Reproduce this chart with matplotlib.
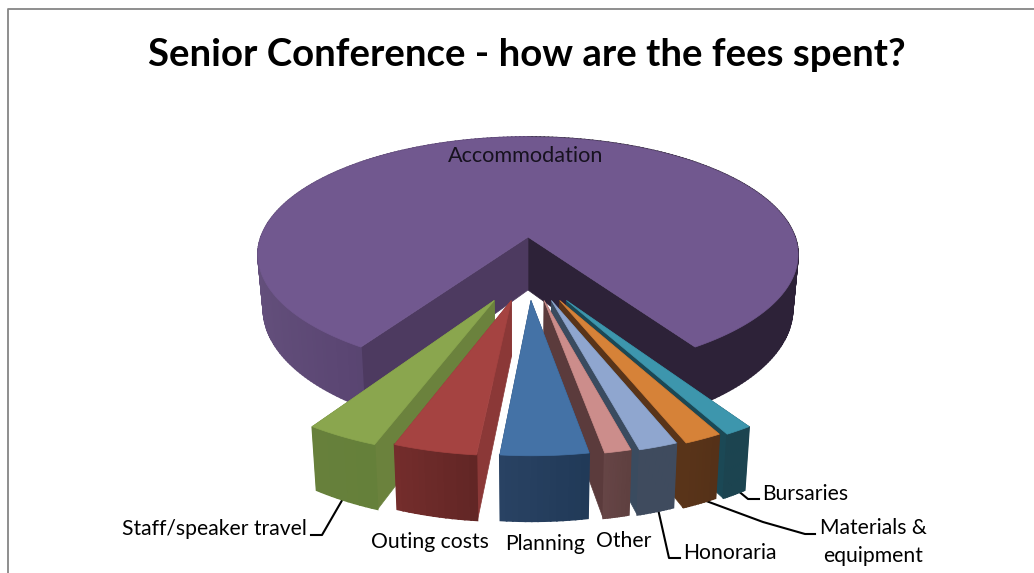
import numpy as np
import matplotlib
matplotlib.use("Agg")
import matplotlib.pyplot as plt
from matplotlib.colors import to_rgb
from matplotlib.patches import Polygon

# ── Chart data (percent of fees) ──
CATEGORIES = ["Staff/speaker travel", "Outing costs", "Planning", "Other",
              "Honoraria", "Materials & equipment", "Bursaries", "Accommodation"]
VALUES = [3.6, 4.1, 4.3, 1.3, 1.92, 1.87, 1.35, 81.56]
TOP_COLORS = ["#8aa64e", "#a54341", "#4472a6", "#cc8d8b",
              "#8fa6cf", "#d68238", "#3d96ad", "#71588f"]
WALL_COLORS = ["#6b823d", "#8b3837", "#2c4a70", "#5b3b3c",
               "#3a4b5f", "#593419", "#1b4855", "#2d2238"]
SIDE_LEFT = ["#67803b", "#742d2c", "#294263", "#664546",
             "#3f4b5e", "#593419", "#1c4450", "#2d2238"]
SIDE_RIGHT = ["#65803a", "#622625", "#213a58", "#5f4040",
              "#3f4b5e", "#553118", "#1c4450", "#2d2238"]
TITLE = "Senior Conference - how are the fees spent?"

# Projection of the pie disc onto the canvas (pixels)
CX, Y0 = 528, 237
A, B, K = 267, 115, 0.15
BOTTOM_SCALE = 0.98
EXPLODE_X, EXPLODE_Y = 0.26, 0.51
SLICE_RADIUS = 0.97


def project(u, v, depth=0):
    """Disc coordinates (v towards the viewer) to canvas pixels."""
    w = 1 - K * v
    x = CX + A * u / w
    y = Y0 + B * v / w
    if depth:
        x = CX + (x - CX) * BOTTOM_SCALE
        y = y + depth / w
    return x, y


def blend(c1, c2, t):
    c1, c2 = np.array(to_rgb(c1)), np.array(to_rgb(c2))
    return tuple((1 - t) * c1 + t * c2)


def fill(ax, pts, color, lw=0.5):
    ax.add_patch(Polygon(pts, closed=True, facecolor=color, edgecolor=color, linewidth=lw))


def draw_slice(ax, start, end, idx, offset=(0, 0), radius=1.0, depth=53):
    ou, ov = offset
    angles = np.radians(np.linspace(start, end, max(int(end - start), 12)))
    us = ou + radius * np.sin(angles)
    vs = ov + radius * np.cos(angles)

    # Walls from the apex out to each cut edge
    for i in (0, -1):
        pts = [project(ou, ov), project(us[i], vs[i]),
               project(us[i], vs[i], depth), project(ou, ov, depth)]
        color = WALL_COLORS[idx]
        if idx == len(VALUES) - 1 and i == -1:
            color = "#4d3a60"
        fill(ax, pts, color)

    # Outer rim, as narrow strips so it can shade
    for j in range(len(us) - 1):
        pts = [project(us[j], vs[j]), project(us[j + 1], vs[j + 1]),
               project(us[j + 1], vs[j + 1], depth), project(us[j], vs[j], depth)]
        if idx == len(VALUES) - 1:
            if us[j] > 0:
                color = SIDE_RIGHT[idx]
            else:
                color = blend("#64507c", "#584370", (us[j] + 1) / 0.5)
        else:
            color = blend(SIDE_LEFT[idx], SIDE_RIGHT[idx], j / (len(us) - 2))
        fill(ax, pts, color, lw=1.2)

    # Top face
    top = [project(ou, ov)] + [project(u, v) for u, v in zip(us, vs)]
    fill(ax, top, TOP_COLORS[idx])


def main():
    fig = plt.figure(figsize=(10.34, 5.73), dpi=100)
    ax = fig.add_axes([0, 0, 1, 1])
    ax.set_xlim(0, 1034)
    ax.set_ylim(573, 0)
    ax.axis("off")

    plt.rcParams["font.family"] = ["Lato", "DejaVu Sans"]

    # Chart frame, cut off by the image on the right and bottom
    ax.plot([8, 8, 1034], [573, 9, 9], color="#868686", linewidth=1.3)

    total = sum(VALUES)
    sweeps = [val / total * 360 for val in VALUES]
    edges = np.concatenate([[0], np.cumsum(sweeps)]) - sum(sweeps[:-1]) / 2

    # Accommodation sits at the back, then outer slices first and centre last
    draw_slice(ax, edges[-2], edges[-1], len(VALUES) - 1)
    for idx in [0, 1, 6, 5, 4, 3, 2]:
        mid = np.radians((edges[idx] + edges[idx + 1]) / 2)
        offset = (EXPLODE_X * np.sin(mid), EXPLODE_Y)
        draw_slice(ax, edges[idx], edges[idx + 1], idx, offset, SLICE_RADIUS, depth=51)

    ax.text(527, 55, TITLE, ha="center", va="center", fontsize=27.6, fontweight="bold", color="black")

    # Labels and leader lines
    label_size = 15.2
    ax.text(526, 156, CATEGORIES[7], ha="center", va="center", fontsize=15.6, color="#17121f")
    ax.text(214, 529, CATEGORIES[0], ha="center", va="center", fontsize=label_size)
    ax.text(430, 542, CATEGORIES[1], ha="center", va="center", fontsize=label_size)
    ax.text(545, 544, CATEGORIES[2], ha="center", va="center", fontsize=label_size)
    ax.text(624, 541, CATEGORIES[3], ha="center", va="center", fontsize=label_size)
    ax.text(730, 553, CATEGORIES[4], ha="center", va="center", fontsize=label_size)
    ax.text(873, 542, "Materials &\nequipment", ha="center", va="center", fontsize=label_size, linespacing=1.45)
    ax.text(805, 494, CATEGORIES[6], ha="center", va="center", fontsize=label_size)

    leaders = [
        ([311, 322, 348], [535, 535, 490]),
        ([656, 669, 680], [500, 558, 558]),
        ([690, 763, 805, 815], [495, 522, 534, 534]),
        ([725, 748, 759], [480, 499, 499]),
    ]
    for xs, ys in leaders:
        ax.plot(xs, ys, color="black", linewidth=1.5, zorder=0.5)

    fig.savefig("out.png", dpi=100)
    plt.close(fig)


if __name__ == "__main__":
    main()
